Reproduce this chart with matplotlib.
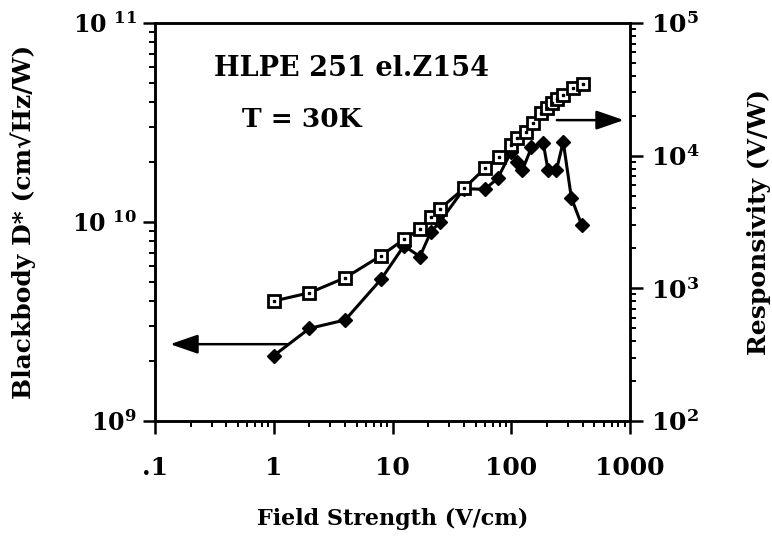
import matplotlib
matplotlib.use("Agg")
import matplotlib.pyplot as plt
from matplotlib.ticker import FixedLocator, LogLocator, NullFormatter

plt.rcParams['mathtext.fontset'] = 'dejavuserif'
FONT = 'DejaVu Serif'

# Data
field_r = [1, 2, 4, 8, 12.5, 17, 21, 25, 40, 60, 79, 100, 111, 132, 151, 177,
           199, 219, 244, 274, 333, 404]
responsivity = [802, 926, 1202, 1762, 2340, 2786, 3427, 3964, 5670, 8020, 9710,
                12000, 13500, 15100, 17500, 20800, 22700, 24800, 26600, 28600,
                32200, 34600]
field_d = [1, 2, 4, 8, 12.5, 17, 21, 25, 40, 60, 77, 100, 111, 124, 148, 186,
           204, 240, 274, 321, 392]
dstar = [2.13e9, 2.92e9, 3.22e9, 5.15e9, 7.6e9, 6.7e9, 8.9e9, 1.0e10, 1.47e10,
         1.46e10, 1.66e10, 2.26e10, 2.01e10, 1.82e10, 2.37e10, 2.49e10, 1.82e10,
         1.82e10, 2.53e10, 1.32e10, 9.66e9]

x_ticks = [0.1, 1, 10, 100, 1000]
x_labels = ['.1', '1', '10', '100', '1000']
left_ticks = [1e9, 1e10, 1e11]
left_labels = [r'$\mathbf{10^{9}}$', r'$\mathbf{10\ ^{10}}$', r'$\mathbf{10\ ^{11}}$']
right_ticks = [1e2, 1e3, 1e4, 1e5]
right_labels = [r'$\mathbf{10^{2}}$', r'$\mathbf{10^{3}}$', r'$\mathbf{10^{4}}$', r'$\mathbf{10^{5}}$']

fig = plt.figure(figsize=(7.72, 5.45), dpi=100)
ax = fig.add_axes([155/772, 1-421/545, (630-155)/772, (421-23)/545])
ax2 = ax.twinx()

ax.set_xscale('log')
ax.set_yscale('log')
ax2.set_yscale('log')
ax.set_xlim(0.1, 1000)
ax.set_ylim(1e9, 1e11)
ax2.set_ylim(1e2, 1e5)

ax.plot(field_d, dstar, color='black', lw=2.2, marker='D', ms=7,
        mfc='black', mec='black', zorder=3)
ax2.plot(field_r, responsivity, color='black', lw=2.2, marker='s', ms=8.5,
         mfc='white', mec='black', mew=2.0, zorder=3)
ax2.plot(field_r, responsivity, ls='none', marker='s', ms=2, color='black', zorder=4)

# tick configuration
ax.xaxis.set_major_locator(FixedLocator(x_ticks))
ax.set_xticklabels(x_labels)
ax.xaxis.set_minor_locator(LogLocator(base=10, subs=range(2, 10)))
ax.xaxis.set_minor_formatter(NullFormatter())
ax.yaxis.set_major_locator(FixedLocator(left_ticks))
ax.set_yticklabels(left_labels)
ax.yaxis.set_minor_locator(LogLocator(base=10, subs=range(2, 10)))
ax.yaxis.set_minor_formatter(NullFormatter())
ax2.yaxis.set_major_locator(FixedLocator(right_ticks))
ax2.set_yticklabels(right_labels)
ax2.yaxis.set_minor_locator(LogLocator(base=10, subs=range(2, 10)))
ax2.yaxis.set_minor_formatter(NullFormatter())

for a in (ax, ax2):
    for s in a.spines.values():
        s.set_linewidth(1.8)
ax.tick_params(which='major', direction='out', length=9, width=1.8, labelsize=17)
ax.tick_params(which='minor', direction='out', length=4, width=1.4)
ax.tick_params(axis='x', which='both', top=False, pad=16, labelsize=18)
ax.tick_params(axis='y', which='both', right=False, pad=4)
ax2.tick_params(which='major', direction='out', length=9, width=1.8, labelsize=18, pad=6)
ax2.tick_params(which='minor', direction='out', length=4, width=1.4)

for lab in ax.get_xticklabels():
    lab.set_fontfamily(FONT)
    lab.set_fontweight('bold')

ax.set_xlabel('Field Strength (V/cm)', fontsize=16, fontweight='bold',
              family=FONT, labelpad=20)
ax.set_ylabel('Blackbody D* (cm\u221aHz/W)', fontsize=18, fontweight='bold',
              family=FONT, labelpad=26)
ax2.set_ylabel('Responsivity (V/W)', fontsize=18, fontweight='bold',
               family=FONT, labelpad=34)

ax.text(0.125, 0.885, 'HLPE 251 el.Z154', transform=ax.transAxes, fontsize=19.5,
        fontweight='bold', family=FONT, va='center', ha='left')
ax.text(0.183, 0.757, 'T = 30K', transform=ax.transAxes, fontsize=19,
        fontweight='bold', family=FONT, va='center', ha='left')

# arrows
arrow_style = dict(arrowstyle='-|>,head_length=1.3,head_width=0.45',
                   color='black', lw=1.8, mutation_scale=13, shrinkA=0, shrinkB=0)
ax.annotate('', xy=(0.032, 0.193), xytext=(0.278, 0.193), xycoords='axes fraction',
            arrowprops=arrow_style)
ax.annotate('', xy=(0.987, 0.756), xytext=(0.846, 0.756), xycoords='axes fraction',
            arrowprops=arrow_style)

fig.savefig('out.png', dpi=100)
